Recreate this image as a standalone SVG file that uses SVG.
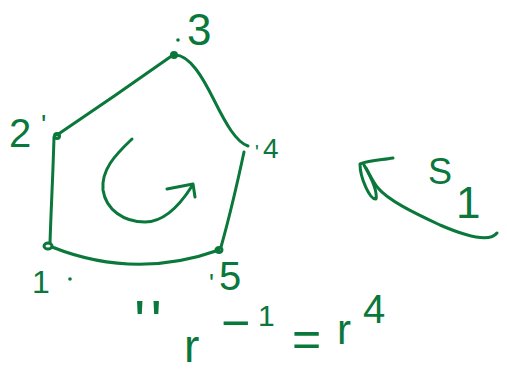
<svg xmlns="http://www.w3.org/2000/svg" width="507" height="371" viewBox="0 0 507 371">
<style>
.s{fill:none;stroke:#0a773b;stroke-width:3;stroke-linecap:round;stroke-linejoin:round}
.t{fill:#0a773b;font-family:"Liberation Sans",Arial,sans-serif}
</style>
<rect width="507" height="371" fill="#fff"/>
<g id="connectors">
<path class="s" d="M57,135 Q115,96 173,55"/>
<path class="s" d="M175,55 C190,55 203,78 214,100 C226,124 236,142 248,146"/>
<path class="s" d="M244,152 C238,180 230,215 221,247"/>
<path class="s" d="M219,250 Q135,280 52,247"/>
<path class="s" d="M54,137 C53,175 51,210 50,243"/>
</g>
<g id="n1">
<ellipse class="s" cx="48" cy="246" rx="4" ry="3"/>
<text class="t" x="32" y="293" font-size="32">1</text>
<circle cx="70" cy="279" r="1.8" fill="#0a773b"/>
</g>
<g id="n2">
<circle class="s" cx="57" cy="136" r="2.5"/>
<text class="t" x="9" y="147" font-size="40">2</text>
<text class="t" x="41" y="134" font-size="28">'</text>
</g>
<g id="n3">
<circle class="s" cx="174" cy="55" r="2.5"/>
<circle cx="178" cy="40" r="1.8" fill="#0a773b"/>
<text class="t" x="187" y="45" font-size="44">3</text>
</g>
<g id="n4">
<text class="t" x="255" y="159" font-size="20">'</text>
<text class="t" x="263" y="158" font-size="28">4</text>
</g>
<g id="n5">
<ellipse class="s" cx="219" cy="250" rx="3" ry="2.5"/>
<text class="t" x="209" y="292" font-size="26">'</text>
<text class="t" x="219" y="290" font-size="40">5</text>
</g>
<g id="rotation">
<path class="s" d="M132,139 C115,155 101,170 103,190 C106,210 124,222 145,222 C165,222 180,205 192,186"/>
<path class="s" d="M167,189 L193,184 L195,197"/>
</g>
<g id="s1">
<path class="s" d="M497,233 C490,242 470,238 440,225 C412,212 388,200 378,188 C373,182 370,175 366,168"/>
<path class="s" d="M393,158 C382,160 370,160 360,164 C360,178 370,200 376,199 C378,190 368,172 364,165"/>
<text class="t" x="428" y="184" font-size="36">S</text>
<text class="t" x="456" y="218" font-size="44">1</text>
</g>
<g id="equation">
<text class="t" x="134" y="342" font-size="60" letter-spacing="5">''</text>
<text class="t" x="184" y="362" font-size="46">r</text>
<text class="t" x="221" y="340" font-size="50">−</text>
<text class="t" x="258" y="326" font-size="30">1</text>
<text class="t" x="292" y="356" font-size="50">=</text>
<text class="t" x="337" y="344" font-size="42">r</text>
<text class="t" x="363" y="323" font-size="40">4</text>
</g>
</svg>
